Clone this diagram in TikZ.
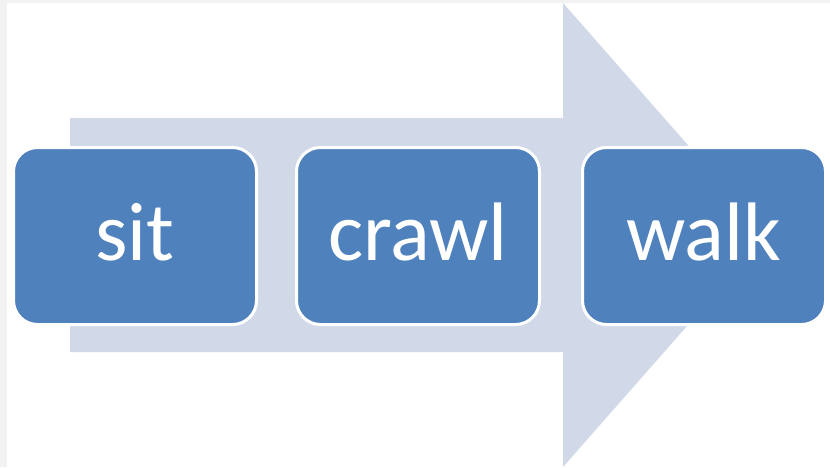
\documentclass[tikz,border=0pt]{standalone}
\usepackage{fontspec}
\setmainfont{Carlito}
\usetikzlibrary{positioning}
\definecolor{cStep}{HTML}{4F81BD}
\definecolor{cArrowBg}{HTML}{D1D8E8}
\definecolor{cFrame}{HTML}{F2F2F2}
\tikzset{
  stepbox/.style={draw=white, line width=3pt, fill=cStep, rounded corners=24pt,
                  minimum width=243pt, minimum height=177pt, inner sep=0pt,
                  text depth=8pt, text=white, font=\fontsize{83}{100}\selectfont},
  bigarrow/.style={fill=cArrowBg, draw=none},
}

\begin{document}
\begin{tikzpicture}[x=1pt, y=-1pt]

% ========== FRAME ==========
\fill[cFrame] (0,0) rectangle (830,467);
\fill[white] (7,3) rectangle (830,467);
\useasboundingbox (0,0) rectangle (830,467);

% ========== BACKGROUND ARROW ==========
\coordinate (tailTop) at (70,118);
\coordinate (tailBot) at (70,352);
\coordinate (headTop) at (563,3);
\coordinate (headBot) at (563,467);
\coordinate (tip) at (767,235);
\fill[bigarrow] (tailTop) -- (563,118) -- (headTop) -- (tip)
  -- (headBot) -- (563,352) -- (tailBot) -- cycle;

% ========== STEPS ==========
\node[stepbox] (sit) at (135,236) {sit};
\node[stepbox, right=37pt of sit] (crawl) {crawl};
\node[stepbox, right=40pt of crawl] (walk) {walk};

\end{tikzpicture}
\end{document}
